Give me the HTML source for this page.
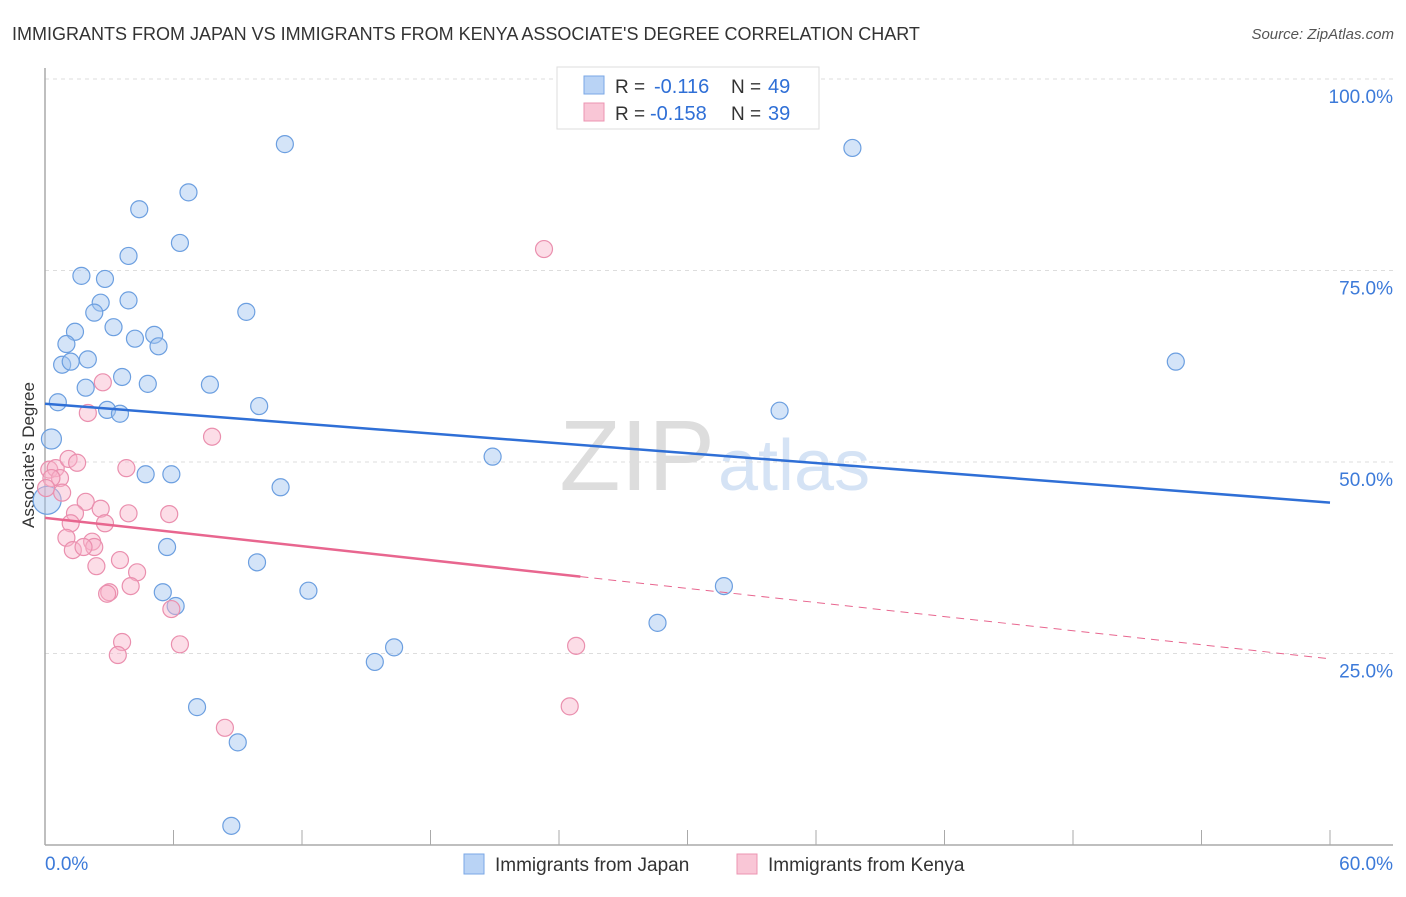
<!DOCTYPE html>
<html><head><meta charset="utf-8"><style>
body{margin:0;background:#fff;font-family:"Liberation Sans",sans-serif}
svg text{font-family:"Liberation Sans",sans-serif}
</style></head><body>
<svg id="c" width="1406" height="892">
<text x="12" y="40" font-size="18" fill="#333">IMMIGRANTS FROM JAPAN VS IMMIGRANTS FROM KENYA ASSOCIATE'S DEGREE CORRELATION CHART</text>
<text x="1394" y="39" font-size="15" fill="#555" font-style="italic" text-anchor="end">Source: ZipAtlas.com</text>
<text x="715" y="490" font-size="100" fill="#ddd" text-anchor="end" font-family="Liberation Serif">ZIP</text>
<text x="718" y="490" font-size="72" fill="#d5e3f5">atlas</text>
<text transform="translate(34,455) rotate(-90)" font-size="17" fill="#333" text-anchor="middle">Associate's Degree</text>
<g id="grid"></g><g id="pts"></g><g id="lines"></g>
<g>
<rect x="557" y="67" width="262" height="62" fill="#fff" stroke="#ddd"/>
<rect x="584" y="76" width="20" height="18" fill="#b9d3f5" stroke="#7aa7e6"/>
<rect x="584" y="103" width="20" height="18" fill="#f9c6d6" stroke="#ec94b2"/>
<text x="615" y="93" font-size="19" fill="#333">R =</text>
<text x="654" y="93" font-size="20" fill="#2f6fd6">-0.116</text>
<text x="731" y="93" font-size="19" fill="#333">N =</text>
<text x="768" y="93" font-size="20" fill="#2f6fd6">49</text>
<text x="615" y="120" font-size="19" fill="#333">R =</text>
<text x="650" y="120" font-size="20" fill="#2f6fd6">-0.158</text>
<text x="731" y="120" font-size="19" fill="#333">N =</text>
<text x="768" y="120" font-size="20" fill="#2f6fd6">39</text>
</g>
<g>
<rect x="464" y="854" width="20" height="20" fill="#b9d3f5" stroke="#7aa7e6"/>
<text x="495" y="871" font-size="19" fill="#333">Immigrants from Japan</text>
<rect x="737" y="854" width="20" height="20" fill="#f9c6d6" stroke="#ec94b2"/>
<text x="768" y="871" font-size="19" fill="#333">Immigrants from Kenya</text>
</g>
</svg>
<script>
const yTicks=[25,50,75,100];
const yTickLabels=["25.0%","50.0%","75.0%","100.0%"];
const japanX=[11.2,37.7,4.4,6.7,6.3,3.9,1.7,2.8,2.6,3.9,2.3,9.4,3.2,1.4,4.2,5.1,5.3,1.0,2.0,0.8,1.2,52.8,3.6,1.9,4.8,7.7,0.6,10.0,2.9,3.5,34.3,0.3,20.9,4.7,5.9,11.0,0.1,5.7,9.9,5.5,12.3,6.1,31.7,16.3,15.4,28.6,7.1,9.0,8.7];
const japanY=[91.5,91.0,83.0,85.2,78.6,76.9,74.3,73.9,70.8,71.1,69.5,69.6,67.6,67.0,66.1,66.6,65.1,65.4,63.4,62.7,63.1,63.1,61.1,59.7,60.2,60.1,57.8,57.3,56.8,56.3,56.7,53.0,50.7,48.4,48.4,46.7,45.0,38.9,36.9,33.0,33.2,31.2,33.8,25.8,23.9,29.0,18.0,13.4,2.5];
const kenyaX=[23.3,2.7,2.0,7.8,0.2,0.5,0.7,0.3,0.05,1.1,1.5,0.8,3.8,1.9,1.4,2.6,3.9,5.8,1.2,2.8,1.0,2.2,2.3,1.3,1.8,3.5,2.4,4.3,4.0,3.0,2.9,5.9,3.6,6.3,3.4,24.8,8.4,24.5];
const kenyaY=[77.8,60.4,56.4,53.3,49.0,49.2,47.9,47.9,46.6,50.4,49.9,46.0,49.2,44.8,43.3,43.9,43.3,43.2,42.0,42.0,40.1,39.6,38.9,38.5,38.9,37.2,36.4,35.6,33.8,33.0,32.8,30.8,26.5,26.2,24.8,26.0,15.3,18.1];
const japanTrend=[57.6,44.7];
const kenyaTrend=[42.7,24.3];
const kenyaSolidEnd=25;
const X=v=>45+v/60*1285, Y=v=>845-v/100*766;
const NS="http://www.w3.org/2000/svg";
function mk(t,a,p){const e=document.createElementNS(NS,t);for(const k in a)e.setAttribute(k,a[k]);p.appendChild(e);return e;}
const g=document.getElementById('grid');
yTicks.forEach((t,i)=>{
 const l=mk('line',{x1:45,x2:1393,y1:Y(t),y2:Y(t),stroke:'#ddd','stroke-dasharray':'4,4'},g);
 
 
 const tx=mk('text',{x:1393,y:Y(t)+24,'font-size':19,fill:'#3c7ad9','text-anchor':'end'},g);tx.textContent=yTickLabels[i];
 
 
});
mk('line',{x1:45,x2:45,y1:68,y2:845,stroke:'#aaa','stroke-width':1.5},g);
const ax=mk('line',{x1:45,x2:1393,y1:845,y2:845,stroke:'#aaa','stroke-width':1.5},g);


for(let i=0;i<=10;i++){mk('line',{x1:X(i*6),x2:X(i*6),y1:830,y2:845,stroke:'#aaa'},g);}
const xl=mk('text',{x:45,y:870,'font-size':19,fill:'#3c7ad9'},g);xl.textContent='0.0%';


const xr=mk('text',{x:1393,y:870,'font-size':19,fill:'#3c7ad9','text-anchor':'end'},g);xr.textContent='60.0%';


const p=document.getElementById('pts');
japanX.forEach((x,i)=>{const r=(i==31||i==36)?(i==36?14:10):8.5;const c=mk('circle',{cx:X(x),cy:Y(japanY[i]),r:r,fill:'rgba(160,195,240,0.45)',stroke:'#6c9fe0','stroke-width':1.2},p);
 
 });
kenyaX.forEach((x,i)=>{const c=mk('circle',{cx:X(x),cy:Y(kenyaY[i]),r:8.5,fill:'rgba(248,180,202,0.45)',stroke:'#ea8fae','stroke-width':1.2},p);
 
 });
const L=document.getElementById('lines');
const jl=mk('line',{x1:X(0),y1:Y(japanTrend[0]),x2:X(60),y2:Y(japanTrend[1]),stroke:'#2f6fd6','stroke-width':2.5},L);


const ky=x=>kenyaTrend[0]+(kenyaTrend[1]-kenyaTrend[0])*x/60;
const kl=mk('line',{x1:X(0),y1:Y(ky(0)),x2:X(kenyaSolidEnd),y2:Y(ky(kenyaSolidEnd)),stroke:'#e8668f','stroke-width':2.5},L);


const kd=mk('line',{x1:X(kenyaSolidEnd),y1:Y(ky(kenyaSolidEnd)),x2:X(60),y2:Y(ky(60)),stroke:'#e8668f','stroke-width':1,'stroke-dasharray':'8,6'},L);


</script>
</body></html>
